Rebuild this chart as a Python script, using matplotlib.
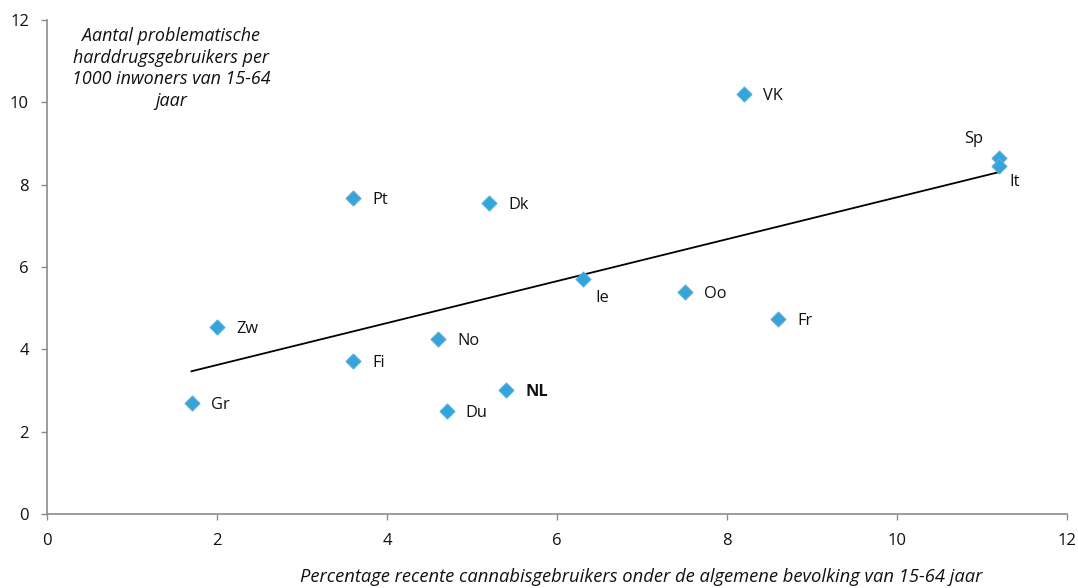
import matplotlib
matplotlib.use('Agg')
import matplotlib.pyplot as plt
import numpy as np

plt.rcParams['font.family'] = ['Open Sans', 'DejaVu Sans']

# landen en waarden
labels = ['VK', 'Sp', 'It', 'Pt', 'Dk', 'Ie', 'Oo', 'Fr', 'Zw', 'No', 'Fi', 'Gr', 'Du', 'NL']
cannabis = [8.2, 11.2, 11.2, 3.6, 5.2, 6.3, 7.5, 8.6, 2.0, 4.6, 3.6, 1.7, 4.7, 5.4]
harddrugs = [10.2, 8.65, 8.45, 7.68, 7.55, 5.71, 5.39, 4.74, 4.54, 4.25, 3.72, 2.70, 2.50, 3.01]

x_ticks = [0, 2, 4, 6, 8, 10, 12]
y_ticks = [0, 2, 4, 6, 8, 10, 12]

# label offsets in pixels (dx, dy, ha)
px = 0.72
offsets = {'Sp': (-25, 19, 'center'), 'It': (16, -16, 'center'), 'Ie': (20, -19, 'center')}

fig = plt.figure(figsize=(10.78, 5.88), dpi=100)
ax = fig.add_axes([0.0436, 0.1259, 0.9462, 0.8401])

# trendlijn
x = np.array(cannabis)
y = np.array(harddrugs)
a, b = np.polyfit(x, y, 1)
xl = np.array([x.min(), x.max()])
ax.plot(xl, a * xl + b, color='black', lw=1.3, zorder=2)

ax.scatter(cannabis, harddrugs, marker='D', s=58, color='#35A4D8', edgecolors='#5AAEDC',
           linewidths=0.8, zorder=3)

for lab, xi, yi in zip(labels, cannabis, harddrugs):
    dx, dy, ha = offsets.get(lab, (19, -2, 'left'))
    ax.annotate(lab, (xi, yi), xytext=(dx * px, dy * px), textcoords='offset points',
                ha=ha, va='center', fontsize=11.8,
                fontweight='bold' if lab == 'NL' else 'normal', color='#111111')

ax.set_xlim(0, 12)
ax.set_ylim(0, 12)
ax.set_xticks(x_ticks)
ax.set_yticks(y_ticks)
for s in ['top', 'right']:
    ax.spines[s].set_visible(False)
for s in ['left', 'bottom']:
    ax.spines[s].set_color('#8C8C8C')
    ax.spines[s].set_linewidth(1.2)
ax.tick_params(axis='both', colors='#8C8C8C', length=4, width=1, labelsize=12,
               labelcolor='#111111', direction='out')
ax.tick_params(axis='x', pad=10)
ax.tick_params(axis='y', pad=9)

ax.text(0.1216, 0.986, 'Aantal problematische\nharddrugsgebruikers per\n1000 inwoners van 15-64\njaar',
        transform=ax.transAxes, ha='center', va='top', fontsize=12.9, style='italic',
        linespacing=1.27, color='#111111')
fig.text(0.595, 0.018, 'Percentage recente cannabisgebruikers onder de algemene bevolking van 15-64 jaar',
         ha='center', va='center', fontsize=13.2, style='italic', color='#111111')

fig.savefig('out.png', dpi=100)
